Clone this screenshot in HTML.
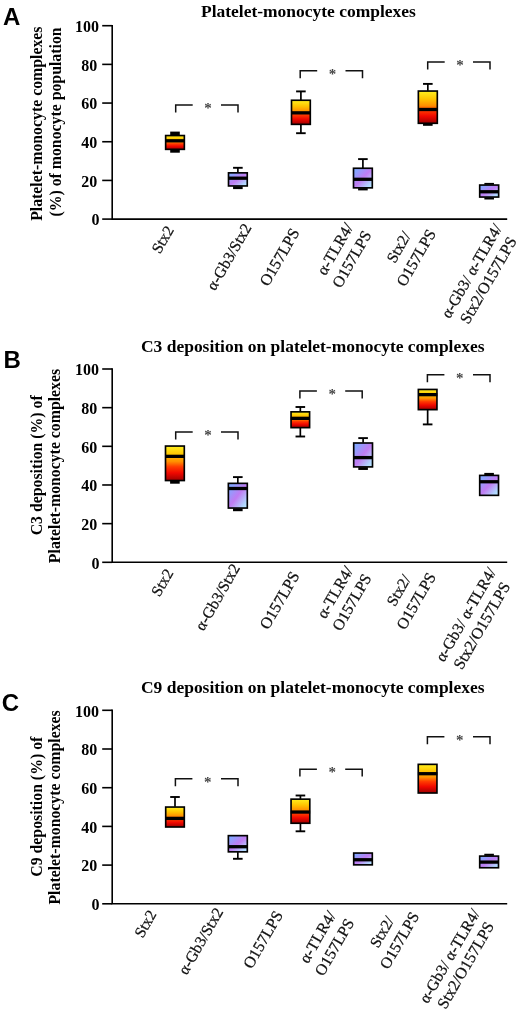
<!DOCTYPE html>
<html><head><meta charset="utf-8"><title>Figure</title>
<style>
html,body{margin:0;padding:0;background:#fff;}
svg{display:block;}
.t{font-family:"Liberation Serif",serif;font-weight:bold;font-size:17.48px;fill:#000;}
  .yl{font-family:"Liberation Serif",serif;font-weight:bold;font-size:15.8px;fill:#000;}
.tk{font-family:"Liberation Serif",serif;font-weight:bold;font-size:16px;fill:#000;}
.xl{font-family:"Liberation Serif",serif;font-size:15.6px;fill:#111;stroke:#111;stroke-width:0.25;}
.pl{font-family:"Liberation Sans",sans-serif;font-weight:bold;font-size:24px;fill:#000;}
.st{font-family:"Liberation Serif",serif;font-weight:bold;font-size:15px;fill:#444;}
.ax{stroke:#000;stroke-width:1.6;fill:none;}
.bk{stroke:#111;stroke-width:1.5;fill:none;}
.bx{stroke:#000;stroke-width:1.65;}
.wh{stroke:#000;stroke-width:1.7;fill:none;}
.cap{stroke:#000;stroke-width:1.9;fill:none;}
.md{stroke:#000;stroke-width:3.3;fill:none;}
</style></head><body>
<svg width="520" height="1015" viewBox="0 0 520 1015">
<defs>
<linearGradient id="go" x1="0" y1="0" x2="0" y2="1">
<stop offset="0" stop-color="#fff020"/><stop offset="0.25" stop-color="#ffc400"/><stop offset="0.45" stop-color="#ff9000"/><stop offset="0.6" stop-color="#ff3c00"/><stop offset="0.78" stop-color="#f00800"/><stop offset="1" stop-color="#9c0000"/>
</linearGradient>
<linearGradient id="gp" x1="0" y1="0" x2="1" y2="1">
<stop offset="0" stop-color="#80a8ff"/><stop offset="0.15" stop-color="#88a4ff"/><stop offset="0.5" stop-color="#c07cf2"/><stop offset="0.85" stop-color="#b0d8ff"/><stop offset="1" stop-color="#bce6ff"/>
</linearGradient>
</defs>
<rect x="0" y="0" width="520" height="1015" fill="#fff"/>

<g id="panelA">
<text class="pl" x="3.0" y="24.6">A</text>
<text class="t" x="308.45" y="17.1" text-anchor="middle">Platelet-monocyte complexes</text>
<text class="yl" transform="translate(41.9,123.7) rotate(-90)" text-anchor="middle">Platelet-monocyte complexes</text>
<text class="yl" transform="translate(61.0,122.0) rotate(-90)" text-anchor="middle">(%) of monocyte population</text>
<path class="ax" d="M112.2,24.9 V219.1 H507.2"/>
<path class="ax" d="M102.2,25.70 H112.2"/>
<text class="tk" x="99.10" y="32.00" text-anchor="end">100</text>
<path class="ax" d="M102.2,64.38 H112.2"/>
<text class="tk" x="97.30" y="70.68" text-anchor="end">80</text>
<path class="ax" d="M102.2,103.06 H112.2"/>
<text class="tk" x="97.30" y="109.36" text-anchor="end">60</text>
<path class="ax" d="M102.2,141.74 H112.2"/>
<text class="tk" x="97.30" y="148.04" text-anchor="end">40</text>
<path class="ax" d="M102.2,180.42 H112.2"/>
<text class="tk" x="97.30" y="186.72" text-anchor="end">20</text>
<path class="ax" d="M102.2,219.10 H112.2"/>
<text class="tk" x="99.50" y="225.40" text-anchor="end">0</text>
<rect x="170.20" y="131.60" width="9.6" height="3.70" fill="#000"/>
<rect x="170.20" y="149.60" width="9.6" height="3.10" fill="#000"/>
<rect class="bx" x="165.65" y="135.55" width="18.70" height="13.80" fill="url(#go)"/>
<path class="md" d="M165.30,140.80 H184.70"/>
<path class="wh" d="M237.88,167.80 V172.60"/><path class="cap" d="M233.07,167.80 H242.68"/>
<rect x="233.07" y="186.20" width="9.6" height="2.90" fill="#000"/>
<rect class="bx" x="228.50" y="172.85" width="18.75" height="13.10" fill="url(#gp)"/>
<path class="md" d="M228.15,178.20 H247.60"/>
<path class="wh" d="M300.90,91.40 V100.00"/><path class="cap" d="M296.10,91.40 H305.70"/>
<path class="wh" d="M300.90,124.60 V133.20"/><path class="cap" d="M296.10,133.20 H305.70"/>
<rect class="bx" x="291.50" y="100.25" width="18.80" height="24.10" fill="url(#go)"/>
<path class="md" d="M291.15,112.85 H310.65"/>
<path class="wh" d="M362.90,159.10 V168.00"/><path class="cap" d="M358.10,159.10 H367.70"/>
<rect x="358.10" y="188.10" width="9.6" height="2.30" fill="#000"/>
<rect class="bx" x="353.50" y="168.25" width="18.80" height="19.60" fill="url(#gp)"/>
<path class="md" d="M353.15,179.30 H372.65"/>
<path class="wh" d="M427.83,83.90 V90.80"/><path class="cap" d="M423.03,83.90 H432.63"/>
<rect x="423.03" y="123.55" width="9.6" height="2.25" fill="#000"/>
<rect class="bx" x="418.35" y="91.05" width="18.95" height="32.25" fill="url(#go)"/>
<path class="md" d="M418.00,109.50 H437.65"/>
<rect x="484.37" y="182.90" width="9.6" height="1.90" fill="#000"/>
<rect x="484.37" y="197.30" width="9.6" height="2.20" fill="#000"/>
<rect class="bx" x="479.70" y="185.05" width="18.95" height="12.00" fill="url(#gp)"/>
<path class="md" d="M479.35,191.75 H499.00"/>
<path class="bk" d="M175.70,112.50 V105.10 H192.70"/><path class="bk" d="M221.00,105.10 H238.00 V112.50"/>
<text class="st" x="207.95" y="113.00" text-anchor="middle">*</text>
<path class="bk" d="M300.20,78.20 V70.80 H317.20"/><path class="bk" d="M345.50,70.80 H362.50 V78.20"/>
<text class="st" x="332.45" y="78.70" text-anchor="middle">*</text>
<path class="bk" d="M427.70,69.50 V62.10 H444.70"/><path class="bk" d="M473.00,62.10 H490.00 V69.50"/>
<text class="st" x="459.95" y="70.00" text-anchor="middle">*</text>
<text class="xl" style="font-size:15.6px" transform="translate(174.30,229.80) rotate(-60)" text-anchor="end">Stx2</text>
<text class="xl" style="font-size:15.75px" transform="translate(252.00,227.40) rotate(-60)" text-anchor="end">α-Gb3/Stx2</text>
<text class="xl" style="font-size:16.15px" transform="translate(300.10,232.20) rotate(-60)" text-anchor="end">O157LPS</text>
<text class="xl" style="font-size:16.1px" transform="translate(353.80,227.20) rotate(-60)" text-anchor="end">α-TLR4/</text>
<text class="xl" style="font-size:15.9px" transform="translate(372.00,234.60) rotate(-60)" text-anchor="end">O157LPS</text>
<text class="xl" style="font-size:15.6px" transform="translate(411.40,235.50) rotate(-60)" text-anchor="end">Stx2/</text>
<text class="xl" style="font-size:15.9px" transform="translate(436.30,233.30) rotate(-60)" text-anchor="end">O157LPS</text>
<text class="xl" style="font-size:15.9px" transform="translate(502.50,228.00) rotate(-60)" text-anchor="end">α-Gb3/ α-TLR4/</text>
<text class="xl" style="font-size:16.1px" transform="translate(517.30,240.70) rotate(-60)" text-anchor="end">Stx2/O157LPS</text>
</g>
<g id="panelB">
<text class="pl" x="3.4" y="368.1">B</text>
<text class="t" x="312.75" y="351.8" text-anchor="middle">C3 deposition on platelet-monocyte complexes</text>
<text class="yl" transform="translate(42.2,465.3) rotate(-90)" text-anchor="middle">C3 deposition (%) of</text>
<text class="yl" transform="translate(59.9,466.0) rotate(-90)" text-anchor="middle">Platelet-monocyte complexes</text>
<path class="ax" d="M112.2,368.2 V562.3 H507.2"/>
<path class="ax" d="M102.2,369.00 H112.2"/>
<text class="tk" x="99.10" y="375.30" text-anchor="end">100</text>
<path class="ax" d="M102.2,407.66 H112.2"/>
<text class="tk" x="97.30" y="413.96" text-anchor="end">80</text>
<path class="ax" d="M102.2,446.32 H112.2"/>
<text class="tk" x="97.30" y="452.62" text-anchor="end">60</text>
<path class="ax" d="M102.2,484.98 H112.2"/>
<text class="tk" x="97.30" y="491.28" text-anchor="end">40</text>
<path class="ax" d="M102.2,523.64 H112.2"/>
<text class="tk" x="97.30" y="529.94" text-anchor="end">20</text>
<path class="ax" d="M102.2,562.30 H112.2"/>
<text class="tk" x="99.50" y="568.60" text-anchor="end">0</text>
<rect x="170.10" y="480.80" width="9.6" height="2.90" fill="#000"/>
<rect class="bx" x="165.50" y="446.05" width="18.80" height="34.50" fill="url(#go)"/>
<path class="md" d="M165.15,456.35 H184.65"/>
<path class="wh" d="M237.82,477.10 V483.10"/><path class="cap" d="M233.02,477.10 H242.62"/>
<rect x="233.02" y="508.30" width="9.6" height="2.90" fill="#000"/>
<rect class="bx" x="228.35" y="483.35" width="18.95" height="24.70" fill="url(#gp)"/>
<path class="md" d="M228.00,488.50 H247.65"/>
<path class="wh" d="M300.33,407.00 V411.60"/><path class="cap" d="M295.53,407.00 H305.13"/>
<path class="wh" d="M300.33,427.90 V436.50"/><path class="cap" d="M295.53,436.50 H305.13"/>
<rect class="bx" x="291.05" y="411.85" width="18.55" height="15.80" fill="url(#go)"/>
<path class="md" d="M290.70,418.35 H309.95"/>
<path class="wh" d="M363.10,438.10 V442.75"/><path class="cap" d="M358.30,438.10 H367.90"/>
<rect x="358.30" y="467.15" width="9.6" height="2.80" fill="#000"/>
<rect class="bx" x="353.70" y="443.00" width="18.80" height="23.90" fill="url(#gp)"/>
<path class="md" d="M353.35,457.60 H372.85"/>
<path class="wh" d="M427.65,409.90 V424.40"/><path class="cap" d="M422.85,424.40 H432.45"/>
<rect class="bx" x="418.35" y="389.45" width="18.60" height="20.20" fill="url(#go)"/>
<path class="md" d="M418.00,394.65 H437.30"/>
<rect x="484.30" y="472.90" width="9.6" height="2.25" fill="#000"/>
<rect class="bx" x="479.70" y="475.40" width="18.80" height="19.95" fill="url(#gp)"/>
<path class="md" d="M479.35,481.75 H498.85"/>
<path class="bk" d="M175.70,439.50 V432.10 H192.70"/><path class="bk" d="M221.00,432.10 H238.00 V439.50"/>
<text class="st" x="207.95" y="440.00" text-anchor="middle">*</text>
<path class="bk" d="M299.90,398.40 V391.00 H316.90"/><path class="bk" d="M345.20,391.00 H362.20 V398.40"/>
<text class="st" x="332.15" y="398.90" text-anchor="middle">*</text>
<path class="bk" d="M427.40,382.20 V374.80 H444.40"/><path class="bk" d="M473.00,374.80 H490.00 V382.20"/>
<text class="st" x="459.80" y="382.70" text-anchor="middle">*</text>
<text class="xl" style="font-size:15.6px" transform="translate(173.90,572.80) rotate(-60)" text-anchor="end">Stx2</text>
<text class="xl" style="font-size:15.75px" transform="translate(240.50,567.70) rotate(-60)" text-anchor="end">α-Gb3/Stx2</text>
<text class="xl" style="font-size:16.15px" transform="translate(300.10,575.40) rotate(-60)" text-anchor="end">O157LPS</text>
<text class="xl" style="font-size:16.1px" transform="translate(353.80,570.40) rotate(-60)" text-anchor="end">α-TLR4/</text>
<text class="xl" style="font-size:15.9px" transform="translate(372.00,577.80) rotate(-60)" text-anchor="end">O157LPS</text>
<text class="xl" style="font-size:15.6px" transform="translate(411.40,578.70) rotate(-60)" text-anchor="end">Stx2/</text>
<text class="xl" style="font-size:15.9px" transform="translate(436.30,576.50) rotate(-60)" text-anchor="end">O157LPS</text>
<text class="xl" style="font-size:15.9px" transform="translate(496.70,571.60) rotate(-60)" text-anchor="end">α-Gb3/ α-TLR4/</text>
<text class="xl" style="font-size:16.1px" transform="translate(510.80,586.10) rotate(-60)" text-anchor="end">Stx2/O157LPS</text>
</g>
<g id="panelC">
<text class="pl" x="1.7" y="710.8">C</text>
<text class="t" x="312.75" y="692.8" text-anchor="middle">C9 deposition on platelet-monocyte complexes</text>
<text class="yl" transform="translate(42.2,806.7) rotate(-90)" text-anchor="middle">C9 deposition (%) of</text>
<text class="yl" transform="translate(59.9,807.4) rotate(-90)" text-anchor="middle">Platelet-monocyte complexes</text>
<path class="ax" d="M112.2,709.5 V903.8 H507.2"/>
<path class="ax" d="M102.2,710.30 H112.2"/>
<text class="tk" x="99.10" y="716.60" text-anchor="end">100</text>
<path class="ax" d="M102.2,749.00 H112.2"/>
<text class="tk" x="97.30" y="755.30" text-anchor="end">80</text>
<path class="ax" d="M102.2,787.70 H112.2"/>
<text class="tk" x="97.30" y="794.00" text-anchor="end">60</text>
<path class="ax" d="M102.2,826.40 H112.2"/>
<text class="tk" x="97.30" y="832.70" text-anchor="end">40</text>
<path class="ax" d="M102.2,865.10 H112.2"/>
<text class="tk" x="97.30" y="871.40" text-anchor="end">20</text>
<path class="ax" d="M102.2,903.80 H112.2"/>
<text class="tk" x="99.50" y="910.10" text-anchor="end">0</text>
<path class="wh" d="M175.00,797.00 V806.80"/><path class="cap" d="M170.20,797.00 H179.80"/>
<rect class="bx" x="165.70" y="807.05" width="18.60" height="19.95" fill="url(#go)"/>
<path class="md" d="M165.35,818.40 H184.65"/>
<path class="wh" d="M237.82,852.10 V858.80"/><path class="cap" d="M233.02,858.80 H242.62"/>
<rect class="bx" x="228.35" y="835.65" width="18.95" height="16.20" fill="url(#gp)"/>
<path class="md" d="M228.00,846.70 H247.65"/>
<path class="wh" d="M300.43,795.50 V798.90"/><path class="cap" d="M295.62,795.50 H305.23"/>
<path class="wh" d="M300.43,823.50 V831.30"/><path class="cap" d="M295.62,831.30 H305.23"/>
<rect class="bx" x="291.05" y="799.15" width="18.75" height="24.10" fill="url(#go)"/>
<path class="md" d="M290.70,812.05 H310.15"/>
<rect class="bx" x="353.70" y="853.05" width="18.60" height="11.80" fill="url(#gp)"/>
<path class="md" d="M353.35,859.75 H372.65"/>
<rect class="bx" x="418.25" y="764.35" width="18.70" height="28.65" fill="url(#go)"/>
<path class="md" d="M417.90,773.70 H437.30"/>
<rect x="484.30" y="853.75" width="9.6" height="2.10" fill="#000"/>
<rect class="bx" x="479.70" y="856.10" width="18.80" height="11.65" fill="url(#gp)"/>
<path class="md" d="M479.35,862.10 H498.85"/>
<path class="bk" d="M175.40,786.20 V778.80 H192.40"/><path class="bk" d="M221.00,778.80 H238.00 V786.20"/>
<text class="st" x="207.80" y="786.70" text-anchor="middle">*</text>
<path class="bk" d="M299.90,776.60 V769.20 H316.90"/><path class="bk" d="M345.20,769.20 H362.20 V776.60"/>
<text class="st" x="332.15" y="777.10" text-anchor="middle">*</text>
<path class="bk" d="M427.40,744.20 V736.80 H444.40"/><path class="bk" d="M473.00,736.80 H490.00 V744.20"/>
<text class="st" x="459.80" y="744.70" text-anchor="middle">*</text>
<text class="xl" style="font-size:15.6px" transform="translate(157.00,913.95) rotate(-60)" text-anchor="end">Stx2</text>
<text class="xl" style="font-size:15.75px" transform="translate(223.60,911.70) rotate(-60)" text-anchor="end">α-Gb3/Stx2</text>
<text class="xl" style="font-size:16.15px" transform="translate(283.50,914.60) rotate(-60)" text-anchor="end">O157LPS</text>
<text class="xl" style="font-size:16.1px" transform="translate(336.40,915.20) rotate(-60)" text-anchor="end">α-TLR4/</text>
<text class="xl" style="font-size:15.9px" transform="translate(354.60,922.60) rotate(-60)" text-anchor="end">O157LPS</text>
<text class="xl" style="font-size:15.6px" transform="translate(394.70,920.20) rotate(-60)" text-anchor="end">Stx2/</text>
<text class="xl" style="font-size:15.9px" transform="translate(419.60,915.95) rotate(-60)" text-anchor="end">O157LPS</text>
<text class="xl" style="font-size:15.9px" transform="translate(480.50,913.00) rotate(-60)" text-anchor="end">α-Gb3/ α-TLR4/</text>
<text class="xl" style="font-size:16.1px" transform="translate(494.60,925.70) rotate(-60)" text-anchor="end">Stx2/O157LPS</text>
</g>
</svg></body></html>
